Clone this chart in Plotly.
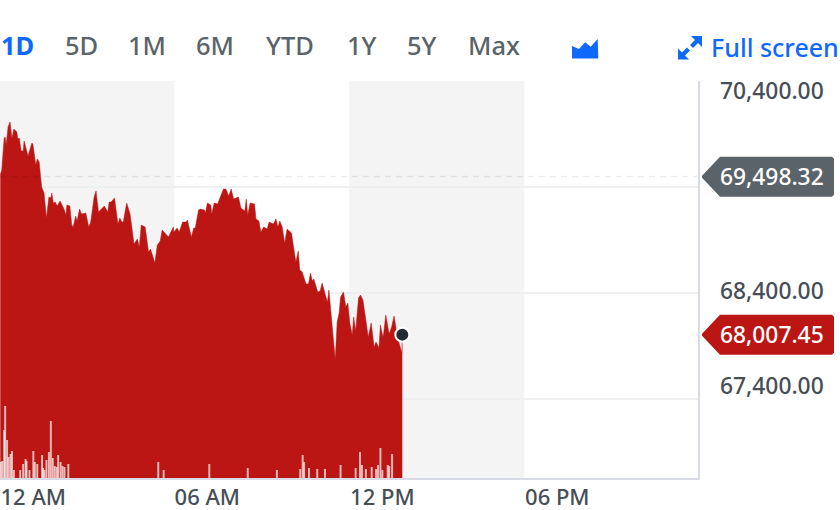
import plotly.graph_objects as go

# minutes after midnight / index level
price_minutes = [2, 5, 10, 12, 14, 18, 22, 26, 30, 36, 38, 41, 45, 49, 51, 59, 67, 69, 75, 78, 82, 87, 92, 97, 102,
                 106, 108, 111, 115, 119, 125, 133, 137, 139, 145, 149, 152, 157, 160, 165, 169, 178, 184, 188, 195,
                 199, 204, 211, 216, 223, 226, 230, 237, 244, 248, 252, 255, 262, 269, 277, 284, 288, 292, 300, 307,
                 311, 320, 325, 331, 335, 348, 358, 359, 366, 370, 377, 384, 387, 395, 400, 403, 410, 414, 422, 424,
                 428, 435, 437, 442, 449, 454, 461, 466, 472, 477, 482, 492, 497, 505, 508, 511, 516, 525, 528, 534,
                 538, 544, 551, 555, 564, 569, 573, 577, 582, 587, 592, 601, 606, 610, 615, 618, 621, 623, 631, 636,
                 640, 644, 647, 655, 660, 664, 672, 675, 678, 684, 691, 695, 699, 702, 708, 713, 717, 721, 726, 729,
                 733, 739, 743, 748, 753, 759, 765, 771, 775, 781, 784, 789, 791, 795, 802, 807, 812, 819, 828, 829]
price_values = [69513, 69560, 69862, 69871, 69796, 69966, 70013, 69862, 69947, 69919, 69852, 69862, 69739, 69739,
                69834, 69692, 69815, 69805, 69607, 69664, 69635, 69400, 69343, 69107, 69305, 69296, 69343, 69249,
                69258, 69220, 69268, 69192, 69135, 69230, 69220, 69041, 69022, 69126, 69079, 69192, 69145, 69154,
                69022, 69069, 69305, 69362, 69164, 69192, 69220, 69164, 69258, 69258, 69296, 69051, 69107, 69069,
                69069, 69249, 69145, 68862, 68909, 68834, 69041, 69022, 68786, 68815, 68683, 68852, 68890, 68994,
                68928, 69022, 68975, 69013, 68975, 69069, 69069, 69088, 68928, 69013, 69013, 69183, 69192, 69183,
                69154, 69249, 69230, 69145, 69249, 69239, 69305, 69381, 69381, 69315, 69381, 69286, 69305, 69202,
                69173, 69286, 69135, 69249, 69239, 69098, 69079, 68975, 69022, 69003, 69069, 69051, 69098, 69022,
                69079, 69022, 68871, 69003, 68966, 68815, 68692, 68796, 68617, 68607, 68598, 68485, 68485, 68589,
                68513, 68532, 68409, 68419, 68494, 68362, 68315, 68428, 68117, 67777, 68126, 68211, 68362, 68409,
                68268, 68305, 68117, 68004, 68173, 68041, 68353, 68381, 68334, 68173, 67985, 68117, 67890, 67938,
                67881, 68098, 67985, 68032, 68192, 68013, 68079, 68183, 67985, 67834, 68007.45]

volume_minutes = [3, 6, 10, 12, 16, 19, 23, 26, 30, 43, 49, 54, 56, 62, 70, 73, 78, 88, 90, 93, 97, 102, 106, 110,
                  114, 118, 121, 126, 130, 134, 142, 327, 338, 432, 511, 571, 619, 624, 627, 637, 654, 670, 702,
                  733, 742, 746, 754, 766, 775, 779, 784, 788, 799, 802, 808]
volume_values = [16, 17, 48, 72, 38, 21, 24, 27, 8, 8, 14, 19, 17, 8, 27, 16, 14, 23, 10, 8, 18, 26, 57, 20,
                 12, 11, 23, 16, 12, 11, 14, 16, 8, 14, 10, 8, 9, 23, 16, 10, 9, 9, 13, 10, 26, 13, 9, 11,
                 9, 13, 30, 8, 13, 12, 24]

range_tabs = ["1D", "5D", "1M", "6M", "YTD", "1Y", "5Y", "Max"]
tab_centers = [17, 81, 147, 215, 290, 362, 422, 494]
x_tick_minutes = [2, 360, 720, 1080]
x_tick_labels = ["12 AM", "06 AM", "12 PM", "06 PM"]
grid_levels = [70400, 69400, 68400, 67400]
shaded_hours = [(0, 360), (720, 1080)]

prev_close = 69498.32
last_price = 68007.45

RED = "#bb1613"
BLUE = "#0f69ff"
GREY_TAG = "#5b636a"
TEXT = "#464e56"
FONT = "Noto Sans"

PLOT_W = 698
PLOT_BOTTOM = 478
PLOT_H = 397


def px(x):
    return x / PLOT_W


def py(y):
    return (PLOT_BOTTOM - y) / PLOT_H


def path(points):
    return "M " + " L ".join(f"{px(x):.5f} {py(y):.5f}" for x, y in points) + " Z"


def add_label(fig, x, y, text, color=TEXT, size=22.8, weight=500, anchor="center"):
    fig.add_annotation(x=px(x), y=py(y), xref="paper", yref="paper", text=text, showarrow=False,
                       xanchor=anchor, yanchor="middle", font=dict(family=FONT, size=size, color=color, weight=weight))


def add_tag(fig, y, text, color):
    pts = [(702, y - 1), (703, y - 2), (720, y - 20), (832, y - 20), (834, y - 18), (834, y + 18), (832, y + 20),
           (720, y + 20), (703, y + 2), (702, y + 1)]
    fig.add_shape(type="path", path=path(pts), xref="paper", yref="paper", fillcolor=color, line_width=0, layer="above")
    add_label(fig, 772, y - 0.5, text, color="white")


fig = go.Figure()

fig.add_trace(go.Scatter(x=price_minutes, y=price_values, mode="lines", fill="tozeroy",
                         fillcolor=RED, line=dict(color=RED, width=0.5), hoverinfo="skip"))
fig.add_trace(go.Scatter(x=[price_minutes[-1]], y=[last_price], mode="markers",
                         marker=dict(color="#232a31", size=14, line=dict(color="white", width=2))))
fig.add_trace(go.Bar(x=volume_minutes, y=volume_values, yaxis="y2", width=4,
                     marker=dict(color="rgba(255,255,255,0.7)", line_width=0)))

for start, end in shaded_hours:
    fig.add_shape(type="rect", x0=start, x1=end, y0=0, y1=1, xref="x", yref="paper",
                  fillcolor="#f4f4f5", line_width=0, layer="below")

# previous close, faint dashes
fig.add_shape(type="line", x0=0, x1=1, y0=prev_close, y1=prev_close, xref="paper", yref="y",
              line=dict(color="rgba(0,0,0,0.07)", width=1.5, dash="6px,5px"), layer="above")

for i, tab in enumerate(range_tabs):
    if i == 0:
        add_label(fig, tab_centers[i], 45.5, tab, color=BLUE, size=25.5, weight=700)
    else:
        add_label(fig, tab_centers[i], 45.5, tab, color=GREY_TAG, size=25.5, weight=500)

add_label(fig, 709, 47.5, "Full screen", color=BLUE, size=25, weight=500, anchor="left")

# chart-type icon
fig.add_shape(type="path", xref="paper", yref="paper", fillcolor=BLUE, line_width=0, layer="above",
              path=path([(572, 46), (579, 49), (585, 42.3), (590.7, 46.7), (597.7, 39), (598.3, 58.5), (572, 58.5)]))
# full screen arrows
fig.add_shape(type="path", xref="paper", yref="paper", fillcolor=BLUE, line_width=0, layer="above",
              path=path([(691, 36), (702, 36), (702, 47), (698, 43), (693, 48), (690, 45), (695, 40)]))
fig.add_shape(type="path", xref="paper", yref="paper", fillcolor=BLUE, line_width=0, layer="above",
              path=path([(678, 59.5), (678, 48.5), (682, 52.5), (687, 47.5), (690, 50.5), (685, 55.5), (689, 59.5)]))

# y labels sit a little off their gridlines in the original
add_label(fig, 772, 90, "70,400.00")
add_label(fig, 772, 290.5, "68,400.00")
add_label(fig, 772, 385.5, "67,400.00")

add_tag(fig, 176.7, f"{prev_close:,.2f}", GREY_TAG)
add_tag(fig, 334.7, f"{last_price:,.2f}", RED)

fig.update_layout(
    width=840, height=510,
    margin=dict(l=0, r=142, t=81, b=32),
    paper_bgcolor="white", plot_bgcolor="white",
    showlegend=False,
    xaxis=dict(range=[1.4, 1437.3], tickvals=x_tick_minutes, ticktext=x_tick_labels, ticklabelshift=33,
               ticklabeloverflow="allow", ticklabelstandoff=-1, automargin=False,
               tickfont=dict(family=FONT, size=22, color=TEXT, weight=500), ticks="",
               showgrid=False, zeroline=False, showline=True, linecolor="#d8dbe6", linewidth=1.5),
    yaxis=dict(range=[66655, 70400], side="right", tickvals=grid_levels, showticklabels=False, ticks="",
               automargin=False, gridcolor="#eeeff1", gridwidth=1.5, zeroline=False, showline=True,
               linecolor="#d8dbe6", linewidth=1.5),
    yaxis2=dict(range=[0, PLOT_H], overlaying="y", side="right", visible=False),
)

fig.write_html("out.html", config=dict(displayModeBar=False), post_script="document.body.style.margin='0';")
